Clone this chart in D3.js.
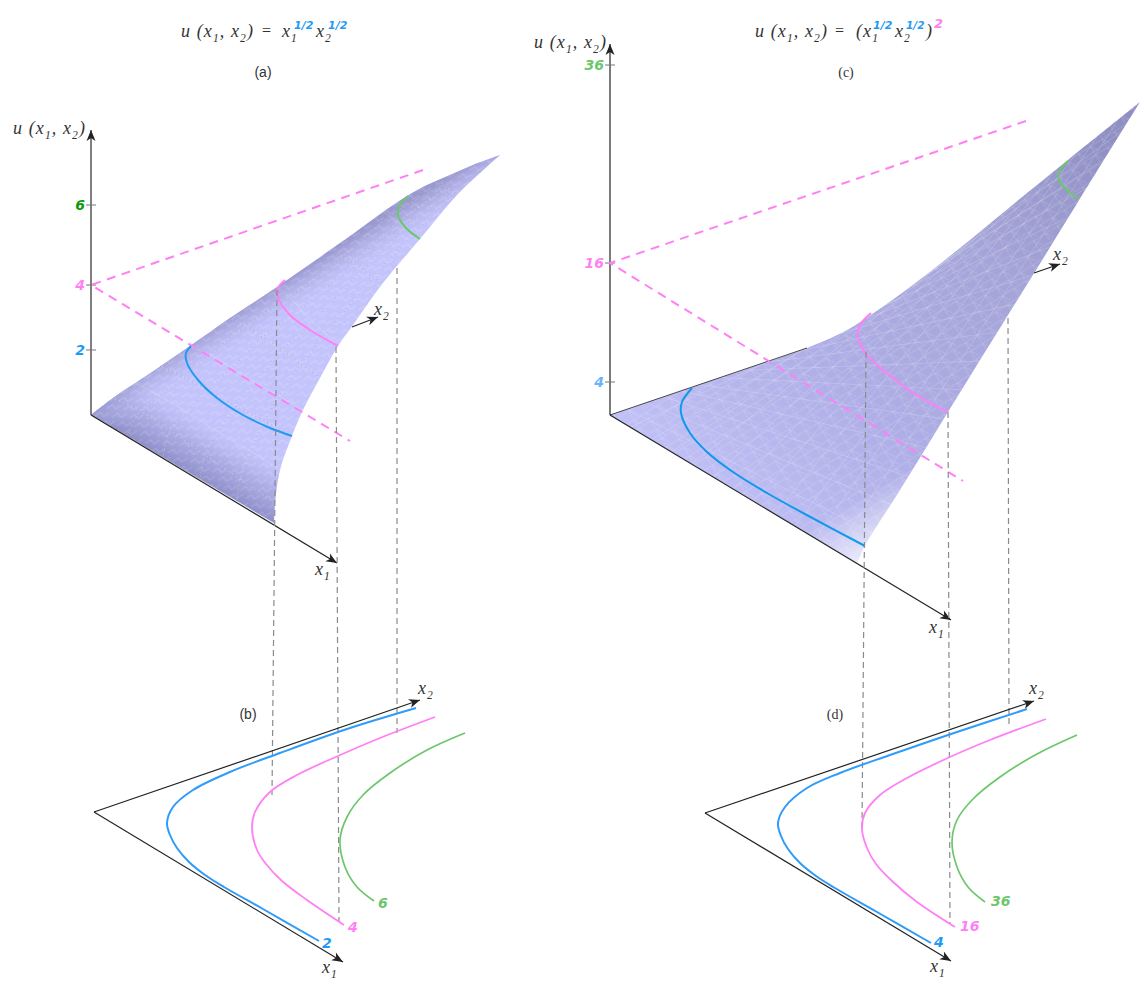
<!DOCTYPE html>
<html>
<head>
<meta charset="utf-8">
<script src="https://cdn.jsdelivr.net/npm/d3@7"></script>
<style>
  body { margin: 0; background: #fff; }
  text { font-family: "Liberation Serif", serif; }
</style>
</head>
<body>
<svg id="chart" width="1144" height="994"></svg>
<script>
'use strict';

// panel (a) u = x1^1/2 x2^1/2
const uTicksA = [2, 4, 6];
const uPosA = [0, 65, 130, 210];
const ridgeA = [[0,0],[22,17],[61,43],[99,69],[139,97],[186,128],[242,167],[266,184],[292,203],[316,219],[336,230],[359,240],[382,250],[409,260]];
const edgeA = [[409,260],[366,220],[329,176],[292,132],[262,90],[247,69],[229,37],[212,5],[201,-21],[189,-55],[184,-88],[183,-108]];
const meshA = [
  [[0,0],[36,-21],[72,-42],[109,-64],[146,-86],[183,-108]],
  [[22,17],[49,4],[79,-15],[114,-40],[149,-64],[184,-88]],
  [[44,32],[69,19],[96,3],[127,-17],[159,-36],[189,-55]],
  [[69,49],[92,38],[116,25],[144,9],[173,-6],[201,-21]],
  [[99,69],[119,60],[141,47],[164,33],[188,19],[212,5]],
  [[139,97],[154,89],[171,78],[191,65],[210,51],[229,37]],
  [[186,128],[198,118],[210,106],[222,93],[235,81],[247,69]],
  [[242,167],[252,159],[262,152],[272,145],[282,138],[292,132]],
  [[292,203],[299,199],[307,193],[314,187],[322,181],[329,176]],
  [[349,233],[353,230],[356,227],[360,225],[363,222],[366,220]]
];
const blueA = [[100,69],[95,62],[96,52],[107,35],[126,17],[152,0],[179,-13],[201,-21]];
const pinkA = [[194,135],[187,127],[187,117],[199,100],[219,85],[247,69]];
const greenA = [[317,219],[308,208],[307,200],[314,188],[329,176]];
const levelA = [[332,245],[0,130],[259,-26]];
const dropsA = [[[186,125],[181,-380]],[[245,68],[248,-506]],[[306,147],[306,-318]]];

// panel (b) contours of (a)
const blueB = [[322,104],[253,83],[186,59],[136,40],[99,22],[79,5],[73,-11],[76,-23],[83,-36],[95,-50],[111,-63],[130,-75],[169,-97],[225,-129]];
const pinkB = [[341,95],[286,74],[244,56],[203,37],[176,20],[161,0],[158,-16],[163,-38],[172,-52],[188,-69],[213,-88],[250,-113]];
const greenB = [[371,79],[333,62],[296,39],[269,17],[253,-5],[246,-28],[251,-55],[263,-75],[280,-89]];

// panel (c) u = (x1^1/2 x2^1/2)^2
const uTicksC = [4, 16, 36];
const uPosC = [0, 33, 152, 350];
const ridgeC = [[0,0],[80,27],[160,54],[197,67],[237,85],[265,103],[300,128],[350,167],[400,208],[458,255],[530,313]];
const edgeC = [[530,313],[468,213],[426,145],[380,71],[338,3],[290,-75],[254,-132],[247,-148]];
const rowsC = [
  [[17,6],[265,-119]],[[34,13],[282,-90]],[[51,19],[300,-62]],[[68,25],[318,-33]],[[84,31],[335,-4]],
  [[101,38],[353,25]],[[118,44],[371,54]],[[135,50],[389,83]],[[152,56],[406,111]],[[169,63],[424,140]],
  [[186,69],[442,169]],[[203,75],[459,198]],[[219,81],[477,227]],[[236,88],[495,256]],[[253,94],[512,284]]
];
const colsC = [
  [[21,-12],[292,118]],[[41,-25],[313,136]],[[62,-37],[335,153]],[[82,-49],[357,171]],[[103,-62],[378,189]],
  [[124,-74],[400,207]],[[144,-86],[422,224]],[[165,-99],[443,242]],[[185,-111],[465,260]],[[206,-123],[487,278]],[[226,-136],[508,295]]
];
const blueC = [[82,27],[72,13],[71,2],[80,-18],[97,-37],[123,-57],[157,-78],[193,-98],[255,-131]];
const pinkC = [[261,102],[250,90],[248,78],[257,60],[277,42],[303,22],[338,3]];
const greenC = [[458,254],[449,243],[450,233],[468,216]];
const levelC = [[416,294],[0,152],[353,-66]];
const dropsC = [[[256,63],[252,-413]],[[338,3],[340,-508]],[[398,97],[399,-312]]];

// panel (d) contours of (c)
const blueD = [[322,104],[252,81],[185,58],[135,40],[102,25],[80,6],[73,-10],[76,-23],[83,-36],[95,-50],[111,-63],[130,-75],[172,-99],[226,-130]];
const pinkD = [[341,94],[285,73],[245,56],[202,35],[175,18],[160,0],[157,-16],[162,-35],[171,-51],[187,-68],[212,-89],[250,-114]];
const greenD = [[372,78],[332,59],[295,36],[268,14],[252,-7],[247,-29],[252,-54],[263,-74],[280,-89]];

const BLUE = "#1e9bf5", PINK = "#ff80f5", GREEN = "#6cc76c";

const svg = d3.select("#chart");
const defs = svg.append("defs");

defs.append("marker").attr("id", "head")
  .attr("markerUnits", "userSpaceOnUse")
  .attr("markerWidth", 16).attr("markerHeight", 12)
  .attr("refX", 12).attr("refY", 6).attr("orient", "auto")
  .append("path").attr("d", "M1,1.5 L12,6 L1,10.5 L4,6 Z").attr("fill", "#222");

function gradient(id, x1, y1, x2, y2, stops) {
  const g = defs.append("linearGradient").attr("id", id)
    .attr("gradientUnits", "userSpaceOnUse")
    .attr("x1", x1).attr("y1", y1).attr("x2", x2).attr("y2", y2);
  stops.forEach(s => g.append("stop").attr("offset", s[0]).attr("stop-color", s[1]).attr("stop-opacity", s[2]));
}

// stepped hatch that stands in for the fine facets of the surface
function hatch(id, angle, path, opacity) {
  defs.append("pattern").attr("id", id)
    .attr("patternUnits", "userSpaceOnUse")
    .attr("width", 14).attr("height", 10)
    .attr("patternTransform", "rotate(" + angle + ")")
    .append("path").attr("d", path)
    .attr("fill", "none").attr("stroke", "#fff")
    .attr("stroke-width", 0.6).attr("stroke-opacity", opacity);
}
hatch("hatchA", -32, "M0,3 H7 V8 H14", 0.32);
hatch("hatchC", -32, "M0,2 H14 M7,2 L12,10 M7,2 V10", 0.26);

function panelScales(ox, oy) {
  return {
    x: d3.scaleLinear().domain([0, 100]).range([ox, ox + 100]),
    y: d3.scaleLinear().domain([0, 100]).range([oy, oy - 100])
  };
}

function lineOf(s, curve) {
  return d3.line().x(d => s.x(d[0])).y(d => s.y(d[1])).curve(curve || d3.curveLinear);
}

function stroke(g, s, pts, color, width, dash, curve) {
  return g.append("path").attr("d", lineOf(s, curve)(pts))
    .attr("fill", "none").attr("stroke", color).attr("stroke-width", width)
    .attr("stroke-dasharray", dash || null);
}

function arrow(g, s, from, to, color, width) {
  stroke(g, s, [from, to], color || "#222", width || 1.2).attr("marker-end", "url(#head)");
}

function surfacePath(s, ridge, edge) {
  const smooth = lineOf(s, d3.curveCatmullRom);
  return smooth(ridge) + smooth(edge).replace("M", "L") + "Z";
}

// parts: plain strings, or ["sub", text]
function math(g, x, y, parts, size) {
  const t = g.append("text").attr("x", x).attr("y", y)
    .attr("font-size", size || 18).attr("font-style", "italic")
    .attr("fill", "#333").attr("letter-spacing", 1.1);
  let low = false;
  parts.forEach(p => {
    if (Array.isArray(p)) {
      t.append("tspan").attr("dy", 5).attr("font-size", 11.5).text(p[1]);
      low = true;
    } else {
      t.append("tspan").attr("dy", low ? -5 : 0).text(p);
      low = false;
    }
  });
}

function sup(g, x, y, label, color, size) {
  g.append("text").attr("x", x).attr("y", y)
    .style("font-family", "'DejaVu Sans'").attr("font-weight", "bold").attr("font-style", "italic")
    .attr("font-size", size || 11).attr("fill", color).text(label);
}

function plain(g, x, y, label, family) {
  g.append("text").attr("x", x).attr("y", y).attr("text-anchor", "middle")
    .style("font-family", family).attr("font-size", 14).attr("fill", "#333").text(label);
}

function valueLabel(g, x, y, label, color, anchor) {
  g.append("text").attr("x", x).attr("y", y).attr("text-anchor", anchor || "start")
    .style("font-family", "'DejaVu Sans'").attr("font-weight", "bold").attr("font-style", "italic")
    .attr("font-size", 14).attr("fill", color).text(label);
}

function uAxis(g, s, top, ticks, pos, colors, axisColor, axisWidth) {
  const u = d3.scaleLinear().domain([0].concat(ticks)).range(pos);
  arrow(g, s, [0, 0], [0, top], axisColor, axisWidth);
  ticks.forEach((t, i) => {
    const y = s.y(u(t));
    g.append("line").attr("x1", s.x(-5)).attr("x2", s.x(5)).attr("y1", y).attr("y2", y)
      .attr("stroke", "#777").attr("stroke-width", 1);
    valueLabel(g, s.x(-6), y + 5, t, colors[i], "end");
  });
}

function contourPanel(g, s, blue, pink, green, x1End, x2End) {
  const c = d3.curveCatmullRom;
  stroke(g, s, [[0, 0], x2End], "#222", 1.2).attr("marker-end", "url(#head)");
  stroke(g, s, [[0, 0], x1End], "#222", 1.2).attr("marker-end", "url(#head)");
  stroke(g, s, green, GREEN, 1.7, null, c);
  stroke(g, s, pink, PINK, 1.8, null, c);
  stroke(g, s, blue, "#2f9bfa", 2, null, c);
}

// ---------- panel (a)
const gA = svg.append("g");
const sA = panelScales(91, 415);
math(gA, 181, 37, ["u (x", ["sub", "1"], ", x", ["sub", "2"], ")"]);
gA.append("text").attr("x", 262).attr("y", 36).attr("font-size", 16).attr("fill", "#333").text("=");
math(gA, 282, 37, ["x", ["sub", "1"]]);
sup(gA, 294, 29, "1/2", BLUE);
math(gA, 316, 37, ["x", ["sub", "2"]]);
sup(gA, 328, 29, "1/2", BLUE);
plain(gA, 263, 77, "(a)", "'Liberation Sans'");
math(gA, 13, 134, ["u (x", ["sub", "1"], ", x", ["sub", "2"], ")"]);

const pathA = surfacePath(sA, ridgeA, edgeA);
arrow(gA, sA, [261, 88], [287, 98]);
gA.append("path").attr("d", pathA).attr("fill", "#c4c4fc");
gradient("bandA", 182, 469, 213, 417, [[0, "#8e8ec8", 1], [0.45, "#a2a2dc", 0.7], [1, "#c4c4fc", 0]]);
gradient("backA", 290, 277, 309, 307, [[0, "#9292c8", 0.85], [1, "#c4c4fc", 0]]);
gA.append("path").attr("d", pathA).attr("fill", "url(#bandA)");
gA.append("path").attr("d", pathA).attr("fill", "url(#backA)");
gA.append("path").attr("d", pathA).attr("fill", "url(#hatchA)");

meshA.forEach((row, i) => {
  stroke(gA, sA, row, "#fff", 0.6, null, d3.curveCatmullRom).attr("stroke-opacity", 0.3);
  if (i % 2 === 1) stroke(gA, sA, row, "#555", 0.9, "1,3.5", d3.curveCatmullRom).attr("stroke-opacity", 0.4);
});
d3.range(1, 5).forEach(j => {
  const col = meshA.map(row => row[j]);
  stroke(gA, sA, col, "#fff", 0.6, null, d3.curveCatmullRom).attr("stroke-opacity", 0.3);
  stroke(gA, sA, col, "#555", 0.9, "1,3.5", d3.curveCatmullRom).attr("stroke-opacity", 0.3);
});

uAxis(gA, sA, 285, uTicksA, uPosA, [BLUE, PINK, "#0a9a0a"], "#555", 1.5);
arrow(gA, sA, [0, 0], [246, -148]);
stroke(gA, sA, levelA, PINK, 2, "9,6.5");
stroke(gA, sA, blueA, BLUE, 2, null, d3.curveCatmullRom);
stroke(gA, sA, pinkA, PINK, 2, null, d3.curveCatmullRom);
stroke(gA, sA, greenA, GREEN, 2, null, d3.curveCatmullRom);
dropsA.forEach(d => stroke(gA, sA, d, "#8a8a8a", 1.2, "6,4"));
math(gA, 315, 575, ["x", ["sub", "1"]]);
math(gA, 374, 315, ["x", ["sub", "2"]]);

// ---------- panel (b)
const gB = svg.append("g");
const sB = panelScales(94, 812);
contourPanel(gB, sB, blueB, pinkB, greenB, [249, -150], [326, 112]);
plain(gB, 248, 719, "(b)", "'Liberation Sans'");
math(gB, 322, 973, ["x", ["sub", "1"]]);
math(gB, 418, 694, ["x", ["sub", "2"]]);
valueLabel(gB, 322, 948, "2", BLUE);
valueLabel(gB, 348, 932, "4", PINK);
valueLabel(gB, 378, 908, "6", GREEN);

// ---------- panel (c)
const gC = svg.append("g");
const sC = panelScales(610, 415);
math(gC, 755, 37, ["u (x", ["sub", "1"], ", x", ["sub", "2"], ")"]);
gC.append("text").attr("x", 835).attr("y", 36).attr("font-size", 16).attr("fill", "#333").text("=");
math(gC, 856, 37, ["(x", ["sub", "1"]]);
sup(gC, 873, 29, "1/2", BLUE);
math(gC, 895, 37, ["x", ["sub", "2"]]);
sup(gC, 906, 29, "1/2", BLUE, 10.5);
math(gC, 926, 37, [")"]);
sup(gC, 934, 28, "2", PINK, 13);
plain(gC, 846, 77, "(c)", "'Liberation Serif'");
math(gC, 534, 48, ["u (x", ["sub", "1"], ", x", ["sub", "2"], ")"]);

const pathC = surfacePath(sC, ridgeC, edgeC);
gradient("sheetC", 720, 520, 1100, 130, [[0, "#c0c0f6", 1], [0.35, "#aeaee6", 1], [0.7, "#a4a4d8", 1], [1, "#8f8fc3", 1]]);
gradient("tipC", 845, 575, 815, 525, [[0, "#ffffff", 0.75], [1, "#ffffff", 0]]);
gC.append("path").attr("d", pathC).attr("fill", "url(#sheetC)");
gC.append("path").attr("d", pathC).attr("fill", "url(#tipC)");
gC.append("path").attr("d", pathC).attr("fill", "url(#hatchC)");
rowsC.concat(colsC).forEach(d => stroke(gC, sC, d, "#fff", 0.6).attr("stroke-opacity", 0.3));

uAxis(gC, sC, 371, uTicksC, uPosC, ["#66b3ff", PINK, GREEN], "#333", 1.3);
arrow(gC, sC, [0, 0], [341, -205]);
stroke(gC, sC, [[0, 0], [197, 67]], "#333", 0.9);
arrow(gC, sC, [424, 142], [450, 151]);
stroke(gC, sC, levelC, PINK, 2, "9,6.5");
stroke(gC, sC, blueC, "#0f99ee", 2, null, d3.curveCatmullRom);
stroke(gC, sC, pinkC, PINK, 2, null, d3.curveCatmullRom);
stroke(gC, sC, greenC, GREEN, 2, null, d3.curveCatmullRom);
dropsC.forEach(d => stroke(gC, sC, d, "#8a8a8a", 1.2, "6,4"));
math(gC, 929, 633, ["x", ["sub", "1"]]);
math(gC, 1053, 260, ["x", ["sub", "2"]]);

// ---------- panel (d)
const gD = svg.append("g");
const sD = panelScales(705, 813);
contourPanel(gD, sD, blueD, pinkD, greenD, [246, -148], [329, 112]);
plain(gD, 835, 719, "(d)", "'Liberation Serif'");
math(gD, 930, 972, ["x", ["sub", "1"]]);
math(gD, 1029, 694, ["x", ["sub", "2"]]);
valueLabel(gD, 934, 947, "4", BLUE);
valueLabel(gD, 960, 931, "16", PINK);
valueLabel(gD, 991, 906, "36", GREEN);
</script>
</body>
</html>
